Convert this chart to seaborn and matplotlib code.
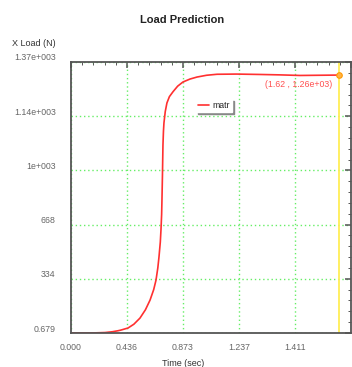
import numpy as np
import pandas as pd
import matplotlib
matplotlib.use("Agg")
import matplotlib.pyplot as plt
import matplotlib.transforms as mtransforms
from matplotlib.ticker import AutoMinorLocator
import seaborn as sns

# curve
time_s = [0.0, 0.115, 0.15, 0.206, 0.25, 0.284, 0.30, 0.345, 0.38, 0.417,
          0.45, 0.478, 0.50, 0.514, 0.525, 0.532, 0.540, 0.544, 0.548, 0.550,
          0.553, 0.556, 0.559, 0.562, 0.570, 0.580, 0.595, 0.617, 0.645, 0.677,
          0.72, 0.762, 0.82, 0.883, 1.0, 1.143, 1.26, 1.385, 1.50, 1.620]
load_n = [0.7, 1.0, 1.5, 3.0, 7.0, 12.0, 15.0, 26.0, 45.0, 76.0,
          118.0, 167.0, 220.0, 268.0, 330.0, 385.0, 460.0, 521.0, 600.0, 673.0,
          800.0, 950.0, 1020.0, 1062.0, 1120.0, 1163.0, 1195.0, 1220.0, 1248.0, 1269.0,
          1284.0, 1294.0, 1303.0, 1308.0, 1309.0, 1307.0, 1305.0, 1302.0, 1303.0, 1304.0]

x_tick_labels = ["0.000", "0.436", "0.873", "1.237", "1.411", ""]
y_tick_labels = ["0.679", "334", "668", "1e+003", "1.14e+003", "1.37e+003"]
cursor_t = 1.62
cursor_v = 1304.0
cursor_text = "(1.62 , 1.26e+03)"

x_max = 1.693
y_min, y_max = 0.679, 1370.0

sns.set_style("white")
plt.rcParams['font.family'] = ['Liberation Sans', 'DejaVu Sans']

df = pd.DataFrame({"Time": time_s, "Load": load_n})

fig = plt.figure(figsize=(3.52, 3.67), dpi=100)
ax = fig.add_axes([71 / 352, 1 - 333 / 367, 280 / 352, 271 / 367])

sns.lineplot(data=df, x="Time", y="Load", ax=ax, color="#ff3030", linewidth=1.2,
             label="matr")

ax.axvline(cursor_t, color="#ffee55", linewidth=1.3, zorder=1)
ax.plot([cursor_t], [cursor_v], marker="o", markersize=4, markerfacecolor="#ffb347",
        markeredgecolor="#ff9900", markeredgewidth=0.8, zorder=5)
ax.annotate(cursor_text, (cursor_t, cursor_v), xytext=(-5, -7), textcoords="offset points",
            ha="right", va="center", fontsize=6.3, color="#ff5050")

ax.set_xlim(0, x_max)
ax.set_ylim(y_min, y_max)
ax.set_xticks(np.linspace(0, x_max, 6))
ax.set_xticklabels(x_tick_labels)
ax.set_yticks(np.linspace(y_min, y_max, 6))
ax.set_yticklabels(y_tick_labels)
ax.xaxis.set_minor_locator(AutoMinorLocator(5))
ax.yaxis.set_minor_locator(AutoMinorLocator(5))
ax.tick_params(which="both", direction="in", top=True, right=True, colors="#555555",
               labelsize=6.3, labelcolor="#666666")
ax.tick_params(which="major", length=4, width=1.1)
ax.tick_params(which="minor", length=2.5, width=0.7)
ax.tick_params(axis="y", pad=11)
ax.tick_params(axis="x", pad=7)

# labels sit a few pixels above their grid lines
shift = mtransforms.ScaledTranslation(0, 5 / 100, fig.dpi_scale_trans)
for lab in ax.get_yticklabels():
    lab.set_transform(lab.get_transform() + shift)

ax.grid(True, which="major", color="#66ee66", linestyle=(0, (1, 2)), linewidth=1)
for sp in ax.spines.values():
    sp.set_color("#555555")
    sp.set_linewidth(1.3)

ax.set_xlabel("")
ax.set_ylabel("")
leg = ax.legend(loc="center", bbox_to_anchor=(0.51, 0.84), fontsize=6.3, frameon=True,
                fancybox=False, shadow={"color": "#888888", "ox": 1.5, "oy": -1.5, "alpha": 1},
                edgecolor="white", framealpha=1, handlelength=1.3, handletextpad=0.4,
                borderpad=0.2)

fig.text(182 / 352, 1 - 20 / 367, "Load Prediction", ha="center", va="center",
         fontsize=8, fontweight="bold", color="#222222")
fig.text(12 / 352, 1 - 44 / 367, "X Load (N)", ha="left", va="center",
         fontsize=6.5, color="#333333")
fig.text(183 / 352, 1 - 363 / 367, "Time (sec)", ha="center", va="center",
         fontsize=6.5, color="#333333")

fig.savefig("out.png", dpi=100)
